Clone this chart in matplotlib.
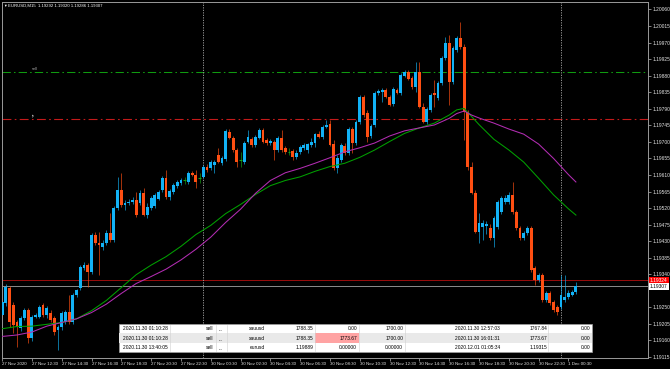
import matplotlib.pyplot as plt
from matplotlib.patches import Rectangle

plt.rcParams['font.family'] = ['Liberation Sans', 'DejaVu Sans']

# EURUSD M15, 27 Nov 2020 10:30 -> 1 Dec 2020 01:00 (one value per bar)
opens = [1.19229, 1.19262, 1.19303, 1.19257, 1.19210, 1.19194, 1.19221, 1.19243, 1.19167, 1.19224,
         1.19224, 1.19257, 1.19229, 1.19235, 1.19221, 1.19189, 1.19197, 1.19210, 1.19238, 1.19210,
         1.19284, 1.19303, 1.19357, 1.19365, 1.19346, 1.19447, 1.19425, 1.19414, 1.19425, 1.19452,
         1.19433, 1.19520, 1.19569, 1.19528, 1.19534, 1.19537, 1.19542, 1.19534, 1.19561, 1.19501,
         1.19520, 1.19526, 1.19545, 1.19569, 1.19602, 1.19550, 1.19564, 1.19580, 1.19588, 1.19596,
         1.19591, 1.19615, 1.19610, 1.19602, 1.19605, 1.19632, 1.19629, 1.19637, 1.19664, 1.19643,
         1.19654, 1.19727, 1.19711, 1.19678, 1.19651, 1.19645, 1.19700, 1.19708, 1.19692, 1.19711,
         1.19732, 1.19705, 1.19697, 1.19700, 1.19678, 1.19711, 1.19683, 1.19673, 1.19675, 1.19659,
         1.19673, 1.19683, 1.19678, 1.19692, 1.19697, 1.19721, 1.19713, 1.19741, 1.19749, 1.19694,
         1.19629, 1.19651, 1.19689, 1.19670, 1.19735, 1.19697, 1.19754, 1.19822, 1.19779, 1.19716,
         1.19746, 1.19833, 1.19836, 1.19841, 1.19822, 1.19803, 1.19841, 1.19833, 1.19879, 1.19890,
         1.19874, 1.19849, 1.19890, 1.19795, 1.19754, 1.19787, 1.19833, 1.19819, 1.19860, 1.19928,
         1.19969, 1.19863, 1.19950, 1.19983, 1.19958, 1.19781, 1.19632, 1.19561, 1.19455, 1.19469,
         1.19471, 1.19466, 1.19439, 1.19469, 1.19509, 1.19537, 1.19537, 1.19556, 1.19509, 1.19466,
         1.19439, 1.19452, 1.19466, 1.19357, 1.19325, 1.19338, 1.19270, 1.19289, 1.19265, 1.19251,
         1.19251, 1.19270, 1.19278, 1.19284, 1.19292]
highs = [1.19276, 1.19314, 1.19308, 1.19265, 1.19216, 1.19227, 1.19248, 1.19248, 1.19229, 1.19235,
         1.19257, 1.19262, 1.19254, 1.19243, 1.19227, 1.19202, 1.19240, 1.19243, 1.19284, 1.19289,
         1.19300, 1.19365, 1.19373, 1.19371, 1.19452, 1.19455, 1.19455, 1.19433, 1.19460, 1.19507,
         1.19526, 1.19605, 1.19615, 1.19542, 1.19545, 1.19550, 1.19564, 1.19569, 1.19575, 1.19534,
         1.19553, 1.19561, 1.19569, 1.19607, 1.19624, 1.19572, 1.19588, 1.19596, 1.19602, 1.19605,
         1.19621, 1.19621, 1.19624, 1.19615, 1.19637, 1.19640, 1.19651, 1.19651, 1.19683, 1.19662,
         1.19735, 1.19735, 1.19716, 1.19683, 1.19673, 1.19702, 1.19732, 1.19713, 1.19719, 1.19738,
         1.19738, 1.19711, 1.19708, 1.19705, 1.19716, 1.19732, 1.19689, 1.19683, 1.19681, 1.19678,
         1.19692, 1.19697, 1.19697, 1.19711, 1.19724, 1.19730, 1.19746, 1.19760, 1.19760, 1.19705,
         1.19664, 1.19697, 1.19697, 1.19741, 1.19741, 1.19760, 1.19828, 1.19828, 1.19787, 1.19749,
         1.19838, 1.19844, 1.19847, 1.19847, 1.19828, 1.19849, 1.19847, 1.19887, 1.19896, 1.19896,
         1.19879, 1.19917, 1.19917, 1.19806, 1.19795, 1.19833, 1.19868, 1.19866, 1.19934, 1.19985,
         1.19991, 1.19961, 1.19988, 1.20026, 1.19966, 1.19787, 1.19645, 1.19569, 1.19507, 1.19488,
         1.19485, 1.19477, 1.19499, 1.19542, 1.19553, 1.19556, 1.19564, 1.19591, 1.19515, 1.19471,
         1.19458, 1.19471, 1.19471, 1.19363, 1.19344, 1.19344, 1.19295, 1.19295, 1.19270, 1.19257,
         1.19338, 1.19338, 1.19297, 1.19297, 1.19320]
lows = [1.19221, 1.19254, 1.19197, 1.19180, 1.19142, 1.19186, 1.19216, 1.19153, 1.19159, 1.19221,
        1.19221, 1.19224, 1.19221, 1.19210, 1.19175, 1.19134, 1.19189, 1.19205, 1.19205, 1.19205,
        1.19278, 1.19297, 1.19352, 1.19305, 1.19341, 1.19420, 1.19338, 1.19406, 1.19420, 1.19428,
        1.19428, 1.19515, 1.19523, 1.19515, 1.19528, 1.19531, 1.19496, 1.19528, 1.19499, 1.19493,
        1.19515, 1.19520, 1.19542, 1.19564, 1.19545, 1.19542, 1.19558, 1.19575, 1.19583, 1.19586,
        1.19586, 1.19607, 1.19575, 1.19588, 1.19602, 1.19618, 1.19624, 1.19615, 1.19643, 1.19637,
        1.19648, 1.19708, 1.19673, 1.19632, 1.19632, 1.19640, 1.19697, 1.19686, 1.19686, 1.19708,
        1.19697, 1.19692, 1.19692, 1.19651, 1.19673, 1.19673, 1.19667, 1.19664, 1.19651, 1.19654,
        1.19667, 1.19678, 1.19670, 1.19686, 1.19686, 1.19711, 1.19708, 1.19738, 1.19689, 1.19624,
        1.19615, 1.19645, 1.19664, 1.19664, 1.19670, 1.19692, 1.19749, 1.19768, 1.19700, 1.19711,
        1.19741, 1.19828, 1.19808, 1.19819, 1.19798, 1.19798, 1.19830, 1.19828, 1.19876, 1.19868,
        1.19844, 1.19836, 1.19792, 1.19751, 1.19749, 1.19781, 1.19795, 1.19814, 1.19855, 1.19923,
        1.19800, 1.19857, 1.19944, 1.19953, 1.19705, 1.19624, 1.19558, 1.19452, 1.19425, 1.19433,
        1.19450, 1.19433, 1.19414, 1.19463, 1.19504, 1.19531, 1.19531, 1.19504, 1.19460, 1.19433,
        1.19433, 1.19447, 1.19346, 1.19311, 1.19319, 1.19265, 1.19265, 1.19257, 1.19238, 1.19229,
        1.19246, 1.19265, 1.19273, 1.19281, 1.19286]
closes = [1.19265, 1.19305, 1.19210, 1.19202, 1.19197, 1.19221, 1.19243, 1.19167, 1.19224, 1.19229,
          1.19251, 1.19229, 1.19248, 1.19216, 1.19183, 1.19197, 1.19235, 1.19238, 1.19210, 1.19284,
          1.19297, 1.19360, 1.19365, 1.19346, 1.19447, 1.19425, 1.19420, 1.19425, 1.19452, 1.19433,
          1.19520, 1.19569, 1.19528, 1.19534, 1.19537, 1.19542, 1.19501, 1.19561, 1.19501, 1.19523,
          1.19547, 1.19556, 1.19564, 1.19602, 1.19550, 1.19566, 1.19583, 1.19591, 1.19596, 1.19596,
          1.19615, 1.19610, 1.19591, 1.19602, 1.19632, 1.19624, 1.19645, 1.19645, 1.19645, 1.19656,
          1.19730, 1.19711, 1.19678, 1.19645, 1.19651, 1.19697, 1.19713, 1.19692, 1.19713, 1.19732,
          1.19700, 1.19697, 1.19702, 1.19678, 1.19711, 1.19678, 1.19673, 1.19673, 1.19659, 1.19670,
          1.19686, 1.19692, 1.19694, 1.19700, 1.19721, 1.19713, 1.19741, 1.19746, 1.19692, 1.19629,
          1.19656, 1.19692, 1.19670, 1.19735, 1.19697, 1.19754, 1.19822, 1.19773, 1.19713, 1.19743,
          1.19833, 1.19838, 1.19841, 1.19822, 1.19800, 1.19844, 1.19833, 1.19882, 1.19890, 1.19871,
          1.19849, 1.19890, 1.19795, 1.19754, 1.19789, 1.19828, 1.19828, 1.19860, 1.19928, 1.19969,
          1.19863, 1.19955, 1.19983, 1.19958, 1.19781, 1.19632, 1.19561, 1.19455, 1.19479, 1.19479,
          1.19477, 1.19439, 1.19493, 1.19537, 1.19547, 1.19547, 1.19556, 1.19509, 1.19466, 1.19439,
          1.19452, 1.19466, 1.19352, 1.19325, 1.19338, 1.19270, 1.19289, 1.19262, 1.19243, 1.19238,
          1.19284, 1.19278, 1.19289, 1.19292, 1.19307]

time_labels = ['27 Nov 2020', '27 Nov 12:30', '27 Nov 14:30', '27 Nov 16:30', '27 Nov 18:30',
               '27 Nov 20:30', '27 Nov 22:30', '30 Nov 00:30', '30 Nov 02:30', '30 Nov 04:30',
               '30 Nov 06:30', '30 Nov 08:30', '30 Nov 10:30', '30 Nov 12:30', '30 Nov 14:30',
               '30 Nov 16:30', '30 Nov 18:30', '30 Nov 20:30', '30 Nov 22:30', '1 Dec 00:30']
day_starts = [54, 150]   # bar index of 30 Nov 00:00 and 1 Dec 00:00

# moving averages at these bars
ma_bars = [0, 4, 8, 12, 16, 20, 24, 28, 32, 36, 40, 44, 48, 52, 56, 60, 64, 68, 72, 76, 80,
           84, 88, 92, 96, 100, 104, 108, 112, 116, 120, 122, 124, 126, 128, 132, 136, 140,
           144, 148, 152, 154]
ma_green = [1.19192, 1.19198, 1.19199, 1.19204, 1.19209, 1.19219, 1.19241, 1.19269, 1.19304,
            1.19339, 1.19365, 1.19388, 1.19416, 1.19448, 1.19473, 1.19505, 1.19530, 1.19557,
            1.19581, 1.19595, 1.19605, 1.19620, 1.19633, 1.19642, 1.19658, 1.19678, 1.19701,
            1.19723, 1.19738, 1.19751, 1.19773, 1.19787, 1.19791, 1.19769, 1.19747, 1.19707,
            1.19678, 1.19645, 1.19601, 1.19556, 1.19518, 1.19501]
ma_purple = [1.19171, 1.19175, 1.19183, 1.19199, 1.19209, 1.19219, 1.19236, 1.19259, 1.19288,
             1.19315, 1.19334, 1.19354, 1.19379, 1.19408, 1.19441, 1.19481, 1.19517, 1.19560,
             1.19595, 1.19616, 1.19628, 1.19642, 1.19657, 1.19673, 1.19684, 1.19697, 1.19716,
             1.19730, 1.19738, 1.19746, 1.19764, 1.19777, 1.19784, 1.19773, 1.19765, 1.19751,
             1.19735, 1.19721, 1.19694, 1.19655, 1.19611, 1.19591]

price_labels = ['1.19115', '1.19160', '1.19205', '1.19250', '1.19340', '1.19385', '1.19430',
                '1.19475', '1.19520', '1.19565', '1.19610', '1.19655', '1.19700', '1.19745',
                '1.19790', '1.19835', '1.19880', '1.19925', '1.19970', '1.20015', '1.20060']

open_level = 1.19889
tp_level = 1.19762
ask = 1.19324
bid = 1.19307

trades = [
    ['2020.11.30 01:10:28', 'sell', 'xauusd', '1788.35', '0.00', '1700.00', '2020.11.30 12:57:03', '1767.84', '0.00'],
    ['2020.11.30 01:10:28', 'sell', 'xauusd', '1788.35', '1773.67', '1700.00', '2020.11.30 16:01:31', '1773.67', '0.00'],
    ['2020.11.30 13:40:05', 'sell', 'eurusd', '1.19889', '0.00000', '0.00000', '2020.12.01 01:05:34', '1.19315', '0.00'],
]

bull = '#12b2f6'
bear = '#ff4f12'
doji = '#13a313'
axis_col = '#9a9a9a'
fs = 3.5

fig = plt.figure(figsize=(6.7, 3.69), dpi=100, facecolor='black')
ax = fig.add_axes([1.5 / 670, 10.7 / 369, 646.5 / 670, 356.8 / 369])
ax.set_facecolor('black')

# candles
for i in range(len(opens)):
    o, h, l, c = opens[i], highs[i], lows[i], closes[i]
    if c > o:
        col = bull
    elif c < o:
        col = bear
    else:
        col = doji
    ax.vlines(i, l, h, color=col, lw=0.7, alpha=0.65, zorder=2)
    if col == doji:
        ax.hlines(o, i - 0.38, i + 0.38, color=col, lw=0.8, zorder=3)
    else:
        ax.bar(i, max(abs(c - o), 0.00002), bottom=min(o, c), width=0.76,
               color=col, lw=0, zorder=3)

ax.plot(ma_bars, ma_green, color='#00a000', lw=0.75, zorder=4)
ax.plot(ma_bars, ma_purple, color='#b32db3', lw=0.75, zorder=4)

# trade levels, bid / ask, day separators
ax.axhline(open_level, color='#109a10', lw=0.75, ls=(0, (8, 3, 1.5, 3)), zorder=1)
ax.axhline(tp_level, color='#c41a1a', lw=0.8, ls=(0, (8, 3, 1.5, 3)), zorder=1)
ax.axhline(ask, color='#9a0c0c', lw=0.7, zorder=1)
ax.axhline(bid, color='#8c8c8c', lw=0.7, zorder=1)
for d in day_starts:
    ax.axvline(d, color='#a8a8a8', lw=0.6, ls=(0, (1.5, 1.5)), zorder=1)

ax.set_xlim(-0.16, 173.35)
ax.set_ylim(1.191116, 1.200817)

for s in ax.spines.values():
    s.set_color(axis_col)
    s.set_linewidth(0.7)

ax.yaxis.tick_right()
ax.set_yticks([float(p) for p in price_labels])
ax.set_yticklabels(price_labels)
ax.tick_params(axis='y', length=2, width=0.6, color=axis_col, labelcolor='#e6e6e6',
               labelsize=fs, pad=1)
ax.set_xticks(range(0, len(opens), 8))
ax.set_xticklabels(time_labels, ha='left')
ax.tick_params(axis='x', length=2, width=0.6, color=axis_col, labelcolor='#e6e6e6',
               labelsize=3.2, pad=1)

ytr = ax.get_yaxis_transform()
ax.text(1.003, ask, f'{ask:.5f}', transform=ytr, color='white', fontsize=fs, va='center',
        ha='left', clip_on=False, zorder=6,
        bbox=dict(boxstyle='square,pad=0.18', fc='#ff0000', ec='none'))
ax.text(1.003, bid, f'{bid:.5f}', transform=ytr, color='black', fontsize=fs, va='center',
        ha='left', clip_on=False, zorder=6,
        bbox=dict(boxstyle='square,pad=0.18', fc='white', ec='none'))

# overlay in pixel coordinates for header and trade table
ov = fig.add_axes([0, 0, 1, 1], zorder=10)
ov.set_xlim(0, 670)
ov.set_ylim(369, 0)
ov.axis('off')

ov.text(3, 5.5, '▼', color='white', fontsize=2.6, va='center', ha='left')
ov.text(8, 5.5, '%s  %.5f %.5f %.5f %.5f' % ('EURUSD,M15', opens[-1], highs[-1], lows[-1], closes[-1]),
        color='white', fontsize=3.1, va='center', ha='left')
ov.text(32, 71, 'sell', color='#b0b0b0', fontsize=2.8, va='bottom', ha='left')
ov.text(32, 118, 'tp', color='#b0b0b0', fontsize=2.8, va='bottom', ha='left')

tx0, tx1, ty0, row_h = 119, 592, 324, 9.4
ov.add_patch(Rectangle((tx0, ty0), tx1 - tx0, 3 * row_h, fc='white', ec='#a0a0a0', lw=0.5))
ov.add_patch(Rectangle((tx0, ty0 + row_h), tx1 - tx0, row_h, fc='#e9e9e9', ec='none'))
ov.add_patch(Rectangle((315, ty0 + row_h), 44, row_h, fc='#ffa3a3', ec='none'))
for sx in [170, 216, 227, 315, 359, 405, 548]:
    ov.plot([sx, sx], [ty0 + 1, ty0 + 3 * row_h - 1], color='#d0d0d0', lw=0.4)

right_edges = [None, 213, 265, 313, 357, 403, 500, 547, 590]
for r, row in enumerate(trades):
    yc = ty0 + row_h * (r + 0.5)
    ov.text(123, yc, row[0], fontsize=fs, color='black', va='center', ha='left')
    ov.text(221, yc + 1, '...', fontsize=fs, color='black', va='center', ha='center')
    for k in range(1, len(row)):
        ov.text(right_edges[k], yc, row[k], fontsize=fs, color='black', va='center', ha='right')

fig.savefig('out.png', dpi=100, facecolor='black')
